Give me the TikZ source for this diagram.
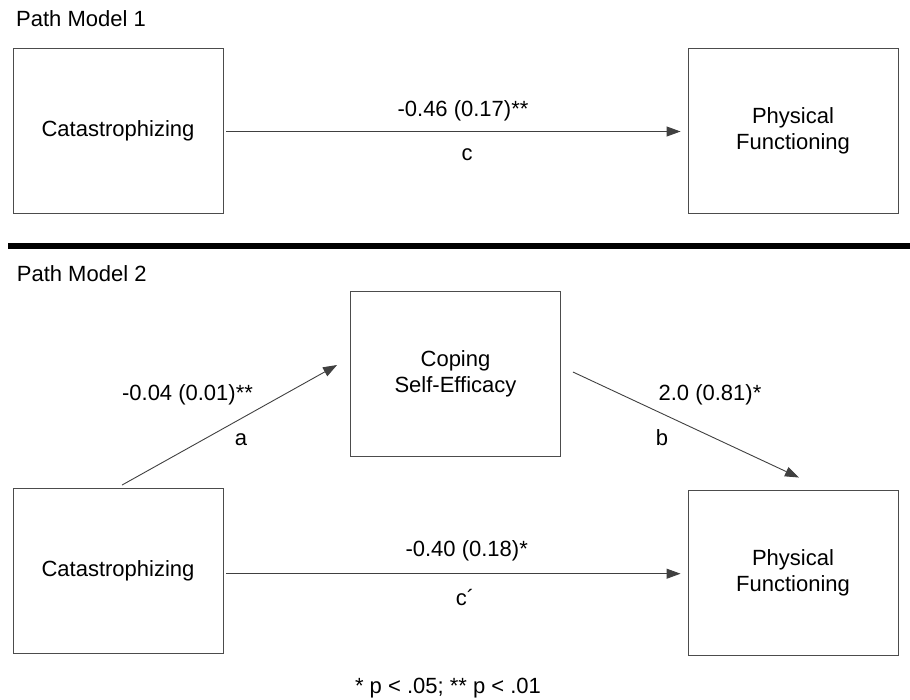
\documentclass[tikz,border=0pt]{standalone}
\usepackage{fontspec}
\setmainfont{Liberation Sans}
\usetikzlibrary{arrows.meta,calc}
\begin{document}
\begin{tikzpicture}[x=1pt,y=-1pt,
  varbox/.style={draw=black!70,line width=0.9pt,minimum width=210pt,minimum height=165pt,align=center,inner sep=0pt,font=\fontsize{22}{26}\selectfont},
  lbl/.style={anchor=base,inner sep=0pt,font=\fontsize{22}{26}\selectfont},
  hdr/.style={anchor=base west,inner sep=0pt,font=\fontsize{22}{26}\selectfont},
  arr/.style={draw=black!75,line width=0.9pt,-{Triangle[length=14pt,width=10pt]}}]
\useasboundingbox (0,0) rectangle (910,699);
% Path Model 1
\node[hdr] (h1) at (16,26.7) {Path Model 1};
\node[varbox] (cat1) at (118,130.5) {Catastrophizing};
\node[varbox] (phys1) at (793,130.5) {Physical\\Functioning};
\draw[arr] ($(cat1.east)+(3,1)$) -- ($(phys1.west)+(-7,1)$);
\node[lbl] (l1) at (463,116) {-0.46 (0.17)**};
\node[lbl] (c1) at (467,160) {c};
% separator
\draw[line width=6pt] (8,246) -- (910,246);
% Path Model 2
\node[hdr] (h2) at (16.7,281.7) {Path Model 2};
\node[varbox] (cope) at (455.5,373.5) {Coping\\Self-Efficacy};
\node[varbox] (cat2) at (118,571) {Catastrophizing};
\node[varbox] (phys2) at (793,572.5) {Physical\\Functioning};
\draw[arr] ($(cat2.north)+(4,-3)$) -- ($(cope.west)+(-13,-8.5)$);
\draw[arr] ($(cope.east)+(12,-1.5)$) -- ($(phys2.north)+(6,-12)$);
\draw[arr] ($(cat2.east)+(3,2.7)$) -- ($(phys2.west)+(-7,1.2)$);
\node[lbl] (la) at (187.5,400.7) {-0.04 (0.01)**};
\node[lbl] (a) at (241,445) {a};
\node[lbl] (lb) at (710,400.7) {2.0 (0.81)*};
\node[lbl] (b) at (662,445) {b};
\node[lbl] (lc) at (466.7,556.7) {-0.40 (0.18)*};
\node[lbl] (cp) at (465,605) {c´};
\node[lbl] (note) at (448,693) {* p < .05; ** p < .01};
\end{tikzpicture}
\end{document}
